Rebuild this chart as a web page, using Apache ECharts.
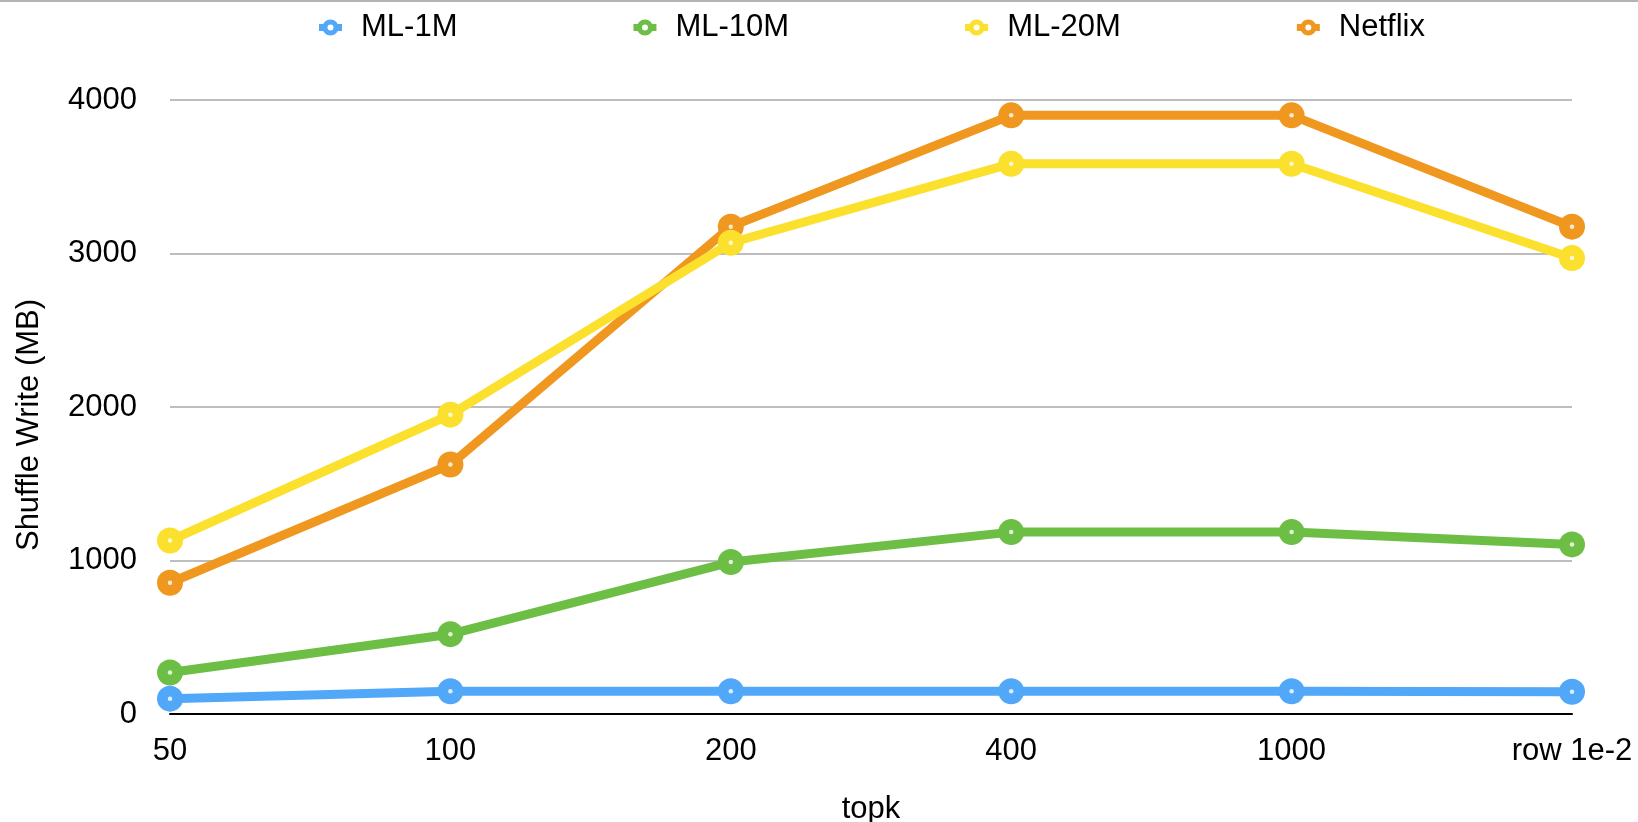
<!DOCTYPE html>
<html>
<head>
<meta charset="utf-8">
<title>Shuffle Write vs topk</title>
<script src="https://cdn.jsdelivr.net/npm/echarts@6/dist/echarts.min.js"></script>
<style>
  html, body { margin: 0; padding: 0; background: #fff; }
  #chart { width: 1638px; height: 822px; }
</style>
</head>
<body>
<div id="chart"></div>
<script>
// topk settings on the x axis
const categories = ['50', '100', '200', '400', '1000', 'row 1e-2'];

// Shuffle write size (MB) per dataset
const ml1m    = [100, 148, 148, 148, 148, 145];
const ml10m   = [270, 520, 990, 1185, 1185, 1105];
const ml20m   = [1130, 1950, 3070, 3585, 3585, 2970];
const netflix = [855, 1625, 3175, 3900, 3900, 3175];

const seriesNames = ['ML-1M', 'ML-10M', 'ML-20M', 'Netflix'];
const seriesColors = ['#52a8f8', '#6dbe45', '#fbe02d', '#ef971f'];
const seriesData = [ml1m, ml10m, ml20m, netflix];

const FONT = '"Liberation Sans", Arial, Helvetica, sans-serif';

// legend glyph: thick ring with short line stubs on both sides (23 x 16 box)
const RING_ICON = 'path://' +
  'M3.5 8A8 8 0 1 1 19.5 8A8 8 0 1 1 3.5 8Z' +
  'M8.5 8A3 3 0 1 0 14.5 8A3 3 0 1 0 8.5 8Z' +
  'M0 4.5L5.5 4.5L5.5 11.5L0 11.5Z' +
  'M17.5 4.5L23 4.5L23 11.5L17.5 11.5Z';

const chart = echarts.init(document.getElementById('chart'));

// lines with solid round markers; later datasets sit underneath earlier ones
const lineSeries = seriesNames.map((name, i) => ({
  name: name,
  type: 'line',
  data: seriesData[i],
  z: 5 - i,
  symbol: 'circle',
  symbolSize: 26,
  showSymbol: true,
  color: seriesColors[i],
  lineStyle: { width: 9, color: seriesColors[i] },
  itemStyle: { color: seriesColors[i] },
  emphasis: { disabled: true },
  animation: false
}));

// small white centre dot on every marker
const dotSeries = seriesNames.map((name, i) => ({
  name: name + ' centre',
  type: 'scatter',
  data: seriesData[i],
  z: 6,
  symbol: 'circle',
  symbolSize: 4.5,
  itemStyle: { color: '#fff' },
  silent: true,
  emphasis: { disabled: true },
  animation: false
}));

chart.setOption({
  backgroundColor: '#fff',
  animation: false,
  textStyle: { fontFamily: FONT },
  grid: {
    left: 170, right: 66, top: 100, bottom: 108,
    containLabel: false,
    outerBoundsMode: 'none'
  },
  legend: {
    data: seriesNames.map(n => ({ name: n, icon: RING_ICON })),
    left: 319,
    top: 12,
    padding: 0,
    itemWidth: 23,
    itemHeight: 16,
    itemGap: 176,
    itemStyle: { borderWidth: 0 },
    textStyle: { fontSize: 31, color: '#000', fontFamily: FONT, padding: [0, 0, 0, 14] }
  },
  xAxis: {
    type: 'category',
    data: categories,
    boundaryGap: false,
    name: 'topk',
    nameLocation: 'middle',
    nameGap: 80,
    nameTextStyle: { fontSize: 31, color: '#000', fontFamily: FONT },
    axisLine: { show: true, lineStyle: { color: '#000', width: 2 } },
    axisTick: { show: false },
    axisLabel: { fontSize: 31, color: '#000', margin: 22, fontFamily: FONT },
    splitLine: { show: false }
  },
  yAxis: {
    type: 'value',
    min: 0,
    max: 4000,
    interval: 1000,
    axisLine: { show: false },
    axisTick: { show: false },
    axisLabel: {
      fontSize: 31, color: '#000', margin: 33, fontFamily: FONT,
      formatter: v => String(v)
    },
    splitLine: { show: true, lineStyle: { color: '#bdbdbd', width: 2 } }
  },
  graphic: [
    {
      type: 'rect',
      shape: { x: 0, y: 0, width: 1638, height: 2 },
      style: { fill: '#b3b3b3' },
      silent: true
    },
    {
      type: 'text',
      x: 29,
      y: 425,
      rotation: Math.PI / 2,
      style: {
        text: 'Shuffle Write (MB)',
        fontSize: 31,
        fontFamily: FONT,
        fill: '#000',
        align: 'center',
        verticalAlign: 'middle'
      },
      silent: true
    }
  ],
  series: lineSeries.concat(dotSeries)
});
</script>
</body>
</html>
